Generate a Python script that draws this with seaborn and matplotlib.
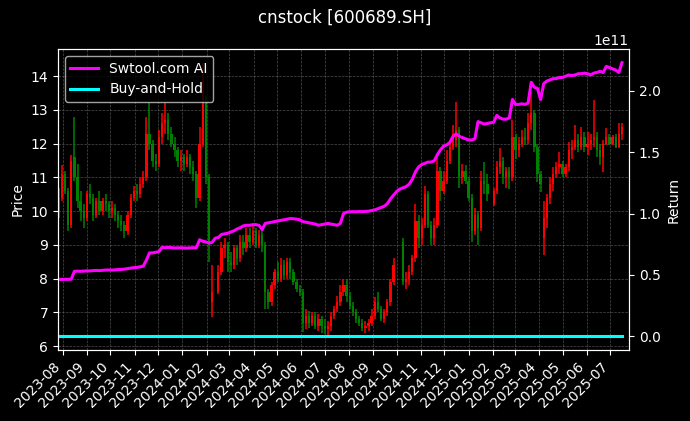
import numpy as np
import pandas as pd
import matplotlib
matplotlib.use('Agg')
import matplotlib.pyplot as plt
import matplotlib.dates as mdates
import seaborn as sns

nan = np.nan

# --------------------- Data (4-day candles) ---------------------
title = 'cnstock [600689.SH]'
start_date = '2023-07-27'

open_ = [10.0, 10.4, 11.1, 10.6, 9.6, 11.6, 11.0, 10.3, 10.0, 9.8,
         10.5, 10.4, 9.9, 10.3, 10.0, 10.3, 10.2, 10.0, 10.1, 9.9,
         9.7, 9.6, 9.4, 9.9, 10.4, 10.6, 10.5, 10.8, 11.0, 12.3,
         12.0, 11.5, 11.4, 12.2, 12.6, 12.7, 12.3, 12.0, 11.8, 11.5,
         11.6, 11.4, 11.6, 11.3, 11.1, 10.4, 12.0, 13.2, 11.0, 7.3,
         nan, 7.6, 8.2, 8.9, 9.0, 8.5, 8.4, 8.9, 8.6, 9.1,
         8.9, 9.3, 9.1, 9.4, 9.0, 9.3, 9.0, 7.6, 7.3, 7.8,
         8.2, 8.0, 8.4, 8.1, 8.5, 8.2, 7.9, 7.7, 7.6, 6.7,
         6.9, 6.7, 6.9, 6.6, 6.8, 6.6, 6.5, 6.6, 6.9, 7.1,
         7.3, 7.6, 7.8, 7.5, 7.2, 7.0, 6.8, 6.7, 6.55, 6.6,
         6.7, 6.9, 7.3, 7.1, 6.8, 7.0, 7.3, 7.9, nan, nan,
         9.1, 7.9, 8.0, 8.2, 8.6, 9.7, 9.2, 9.6, 10.5, 9.6,
         9.2, 9.6, 11.2, 10.6, 10.9, 11.5, 11.9, 12.1, 12.4, 11.0,
         11.2, 10.9, 10.4, 9.4, 9.9, 9.5, 10.9, 10.8, nan, 10.2,
         10.6, 11.3, 11.5, 11.0, 11.2, 11.0, 12.2, 11.8, 12.0, 12.2,
         12.1, 12.6, 12.9, 11.9, 11.1, 9.2, 9.8, 10.4, 10.8, 11.1,
         11.3, 11.4, 11.1, 11.3, 11.8, 11.9, 12.1, 11.9, 12.2, 11.9,
         12.0, 12.1, 12.2, 11.8, 11.6, 12.0, 12.2, 12.0, 12.2, 11.9,
         12.3]

high = [10.7, 11.36, 11.2, 10.7, 11.66, 12.8, 11.4, 10.6, 10.2, 10.6,
        10.8, 10.5, 10.4, 10.6, 10.4, 10.5, 10.3, 10.3, 10.2, 10.0,
        9.9, 9.7, 10.0, 10.5, 10.75, 10.8, 11.0, 11.2, 12.8, 13.2,
        12.1, 11.7, 12.4, 12.9, 13.2, 12.9, 12.5, 12.2, 11.9, 11.8,
        11.7, 11.8, 11.7, 11.5, 11.2, 12.5, 14.4, 13.4, 11.1, 8.4,
        nan, 8.4, 9.1, 9.2, 9.1, 8.8, 9.0, 9.0, 9.3, 9.3,
        9.5, 9.5, 9.55, 9.5, 9.45, 9.4, 9.1, 7.7, 7.9, 8.3,
        8.5, 8.6, 8.55, 8.6, 8.6, 8.3, 8.0, 7.8, 7.7, 7.1,
        7.05, 7.0, 7.0, 6.95, 6.9, 6.8, 6.75, 7.0, 7.2, 7.5,
        7.8, 8.0, 8.0, 7.6, 7.3, 7.1, 6.9, 6.8, 6.75, 6.8,
        7.1, 7.45, 7.6, 7.2, 7.1, 7.4, 8.0, 8.6, nan, nan,
        9.2, 8.2, 8.4, 8.7, 10.2, 9.9, 9.8, 10.75, 10.6, 9.7,
        9.8, 11.66, 11.3, 11.2, 11.8, 12.1, 12.55, 13.24, 12.5, 11.4,
        11.36, 11.0, 10.5, 10.1, 10.0, 11.2, 11.46, 11.1, nan, 10.7,
        11.5, 11.86, 11.6, 11.3, 11.3, 12.7, 12.3, 12.2, 12.4, 12.45,
        12.9, 13.54, 13.0, 12.0, 11.2, 10.3, 10.5, 11.0, 11.3, 11.46,
        11.76, 11.5, 11.4, 12.05, 12.1, 12.55, 12.3, 12.5, 12.35, 12.35,
        12.3, 13.29, 12.35, 12.0, 12.1, 12.45, 12.3, 12.25, 12.3, 12.6,
        12.6]

low = [9.8, 10.3, 10.5, 9.4, 9.5, 10.9, 10.1, 9.7, 9.5, 9.7,
       10.2, 9.7, 9.8, 9.9, 9.9, 10.0, 9.8, 9.8, 9.7, 9.5,
       9.4, 9.2, 9.3, 9.8, 10.3, 10.3, 10.4, 10.7, 10.9, 11.8,
       11.3, 11.2, 11.3, 12.0, 12.3, 12.1, 11.9, 11.6, 11.3, 11.2,
       11.2, 11.3, 11.1, 10.9, 10.1, 10.3, 11.9, 10.8, 8.5, 6.85,
       nan, 7.55, 8.1, 8.6, 8.2, 8.2, 8.3, 8.4, 8.5, 8.7,
       8.8, 8.9, 9.0, 8.9, 8.9, 8.8, 7.1, 7.1, 7.2, 7.7,
       7.9, 7.9, 8.0, 8.0, 8.0, 7.8, 7.6, 7.5, 6.43, 6.5,
       6.55, 6.6, 6.5, 6.45, 6.4, 6.35, 6.29, 6.45, 6.8, 7.0,
       7.2, 7.5, 7.3, 7.1, 6.9, 6.7, 6.6, 6.45, 6.4, 6.45,
       6.6, 6.8, 7.0, 6.75, 6.7, 6.9, 7.2, 7.8, nan, nan,
       7.8, 7.7, 7.8, 8.1, 8.5, 8.9, 9.0, 9.5, 9.5, 9.0,
       9.0, 9.5, 10.3, 10.5, 10.8, 11.4, 11.8, 11.9, 10.7, 10.8,
       10.8, 10.3, 9.1, 9.3, 9.0, 9.4, 10.5, 10.3, nan, 10.15,
       10.5, 11.1, 10.8, 10.7, 10.67, 10.9, 11.56, 11.6, 11.9, 11.96,
       12.0, 12.4, 11.76, 10.87, 10.57, 8.7, 9.5, 10.2, 10.6, 10.97,
       11.1, 11.0, 11.0, 11.2, 11.56, 11.8, 11.76, 11.8, 11.76, 11.66,
       11.8, 11.9, 11.6, 11.36, 11.17, 11.96, 11.96, 11.96, 11.86, 11.86,
       12.1]

close_ = [10.4, 11.1, 10.6, 9.6, 11.5, 11.0, 10.3, 10.0, 9.8, 10.5,
          10.4, 9.9, 10.3, 10.0, 10.3, 10.2, 10.0, 10.1, 9.9, 9.7,
          9.6, 9.4, 9.9, 10.4, 10.6, 10.5, 10.8, 11.0, 12.3, 12.0,
          11.5, 11.4, 12.2, 12.6, 12.7, 12.3, 12.0, 11.8, 11.5, 11.6,
          11.4, 11.6, 11.3, 11.1, 10.4, 12.0, 13.2, 11.0, 9.0, 7.6,
          nan, 8.2, 8.9, 9.0, 8.5, 8.4, 8.9, 8.6, 9.1, 8.9,
          9.3, 9.1, 9.4, 9.0, 9.3, 9.0, 7.6, 7.3, 7.8, 8.2,
          8.0, 8.4, 8.1, 8.5, 8.2, 7.9, 7.7, 7.6, 6.7, 6.9,
          6.7, 6.9, 6.6, 6.8, 6.6, 6.5, 6.6, 6.9, 7.1, 7.3,
          7.6, 7.8, 7.5, 7.2, 7.0, 6.8, 6.7, 6.55, 6.6, 6.7,
          6.9, 7.3, 7.1, 6.8, 7.0, 7.3, 7.9, 8.4, nan, nan,
          7.9, 8.0, 8.2, 8.6, 9.7, 9.2, 9.6, 10.5, 9.6, 9.2,
          9.6, 11.2, 10.6, 10.9, 11.5, 11.9, 12.3, 12.4, 11.0, 11.2,
          10.9, 10.4, 9.4, 9.9, 9.5, 10.9, 10.8, 10.5, nan, 10.6,
          11.3, 11.5, 11.0, 11.2, 11.0, 12.2, 11.8, 12.0, 12.2, 12.1,
          12.6, 12.9, 11.9, 11.1, 10.8, 9.8, 10.4, 10.8, 11.1, 11.3,
          11.4, 11.1, 11.3, 11.8, 11.9, 12.1, 11.9, 12.2, 11.9, 12.0,
          12.1, 12.2, 11.8, 11.6, 12.0, 12.2, 12.0, 12.2, 11.9, 12.3,
          12.5]

# strategy equity, in units of 1e11
strategy = [0.464, 0.464, 0.465, 0.464, 0.466, 0.53, 0.531, 0.530, 0.532, 0.533,
            0.533, 0.536, 0.537, 0.536, 0.538, 0.540, 0.541, 0.540, 0.542, 0.544,
            0.545, 0.548, 0.552, 0.556, 0.560, 0.562, 0.566, 0.572, 0.62, 0.68,
            0.68, 0.685, 0.69, 0.725, 0.722, 0.725, 0.723, 0.720, 0.721, 0.722,
            0.720, 0.719, 0.721, 0.722, 0.722, 0.787, 0.775, 0.77, 0.76, 0.765,
            0.80, 0.805, 0.83, 0.835, 0.84, 0.85, 0.86, 0.875, 0.885, 0.90,
            0.905, 0.905, 0.91, 0.91, 0.905, 0.87, 0.92, 0.925, 0.93, 0.935,
            0.94, 0.945, 0.95, 0.955, 0.96, 0.958, 0.955, 0.95, 0.935, 0.93,
            0.925, 0.92, 0.915, 0.905, 0.91, 0.915, 0.92, 0.915, 0.91, 0.905,
            0.92, 1.0, 1.012, 1.015, 1.016, 1.015, 1.017, 1.016, 1.018, 1.02,
            1.025, 1.03, 1.04, 1.05, 1.06, 1.08, 1.12, 1.15, 1.18, 1.2,
            1.21, 1.22, 1.24, 1.28, 1.34, 1.38, 1.40, 1.41, 1.42, 1.42,
            1.43, 1.48, 1.52, 1.55, 1.56, 1.58, 1.63, 1.65, 1.63, 1.62,
            1.61, 1.60, 1.60, 1.61, 1.75, 1.74, 1.73, 1.735, 1.74, 1.745,
            1.80, 1.78, 1.77, 1.77, 1.78, 1.93, 1.89, 1.89, 1.895, 1.89,
            1.90, 2.07, 2.03, 2.02, 1.93, 2.06, 2.08, 2.09, 2.10, 2.10,
            2.11, 2.11, 2.12, 2.13, 2.125, 2.13, 2.14, 2.14, 2.145, 2.14,
            2.13, 2.145, 2.15, 2.16, 2.15, 2.20, 2.19, 2.18, 2.17, 2.15,
            2.23]

# --------------------- Prepare ---------------------
o = np.array(open_, dtype=float)
h = np.array(high, dtype=float)
l = np.array(low, dtype=float)
c = np.array(close_, dtype=float)
dates = pd.date_range(start_date, periods=len(c), freq='4D')
strat_dates = pd.date_range(start_date, periods=len(strategy), freq='4D')

colors = np.where(c >= o, 'red', 'green')
buy_hold = pd.Series(c).ffill().values / c[0]

# --------------------- Plot ---------------------
plt.style.use('dark_background')
fig, ax = plt.subplots(figsize=(6.9, 4.21), dpi=100)
fig.subplots_adjust(left=0.084, right=0.9116, top=0.8836, bottom=0.1686)

ax.vlines(dates, l, h, colors=colors, linewidth=1.1)
ax.bar(dates, np.abs(c - o), bottom=np.minimum(o, c), width=3.0, color=colors, linewidth=0)
ax.set_ylabel('Price')
ax.grid(True, color='gray', linestyle='--', linewidth=0.5, alpha=0.6)

ax2 = ax.twinx()
sns.lineplot(x=strat_dates, y=np.array(strategy) * 1e11, ax=ax2, color='magenta',
             linewidth=2.2, label='Swtool.com AI')
sns.lineplot(x=dates, y=buy_hold, ax=ax2, color='cyan', linewidth=2.2, label='Buy-and-Hold')
ax2.set_ylabel('Return')
ax2.legend(loc='upper left')

ax.set_xlim(pd.Timestamp('2023-07-26'), pd.Timestamp('2025-07-25'))
ax.xaxis.set_major_locator(mdates.MonthLocator())
ax.xaxis.set_major_formatter(mdates.DateFormatter('%Y-%m'))
plt.setp(ax.get_xticklabels(), rotation=45, ha='right')
ax.set_xlabel('')

fig.suptitle(title)
plt.savefig('out.png', dpi=100)
